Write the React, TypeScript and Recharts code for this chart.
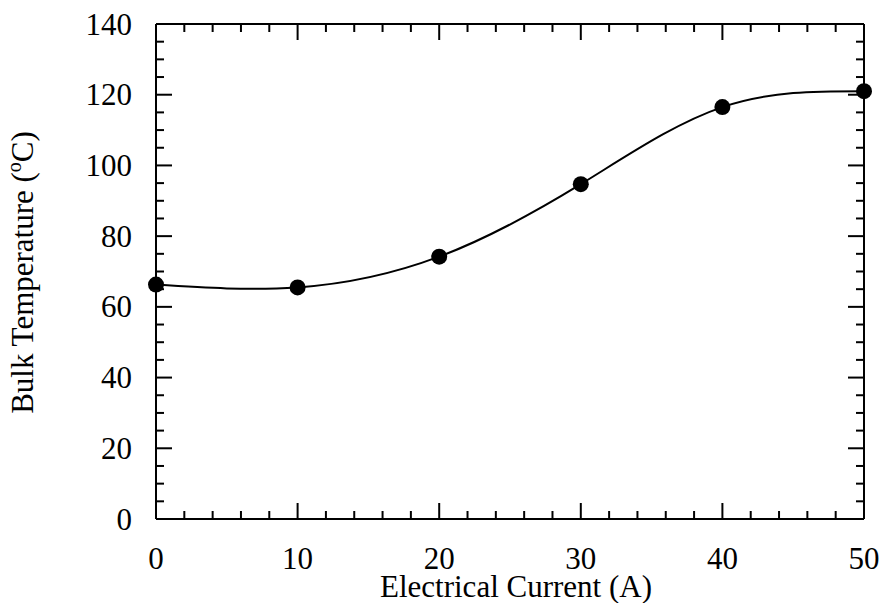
import React from 'react';
import { ComposedChart, Line, XAxis, YAxis } from 'recharts';

const currents = [0, 10, 20, 30, 40, 50];
const temperatures = [66.3, 65.5, 74.2, 94.7, 116.5, 121];
const xTicks = [0, 2, 4, 6, 8, 10, 12, 14, 16, 18, 20, 22, 24, 26, 28, 30, 32, 34, 36, 38, 40, 42, 44, 46, 48, 50];
const yTicks = [0, 5, 10, 15, 20, 25, 30, 35, 40, 45, 50, 55, 60, 65, 70, 75, 80, 85, 90, 95, 100, 105, 110, 115, 120, 125, 130, 135, 140];
const xTitle = 'Electrical Current (A)';
const yTitleMain = 'Bulk Temperature (';
const yTitleSup = 'o';
const yTitleEnd = 'C)';

const data = currents.map((c, i) => ({ x: c, y: temperatures[i] }));

const FONT = '"Liberation Serif", "Times New Roman", serif';
const FS = 31;
const MAJ = 16;
const MIN = 8;

const BottomTick = (props: any) => {
  const { x, y, payload } = props;
  const v = payload.value;
  const major = v % 10 === 0;
  return (
    <g>
      <line x1={x} x2={x} y1={y} y2={y - (major ? MAJ : MIN)} stroke="#000" strokeWidth={2} />
      {major && (
        <text x={x} y={y + 50} textAnchor="middle" fontFamily={FONT} fontSize={FS} fill="#000">
          {v}
        </text>
      )}
    </g>
  );
};

const TopTick = (props: any) => {
  const { x, y, payload } = props;
  const v = payload.value;
  const major = v % 10 === 0;
  return <line x1={x} x2={x} y1={y} y2={y + (major ? MAJ : MIN)} stroke="#000" strokeWidth={2} />;
};

const LeftTick = (props: any) => {
  const { x, y, payload } = props;
  const v = payload.value;
  const major = v % 20 === 0;
  return (
    <g>
      <line x1={x} x2={x + (major ? MAJ : MIN)} y1={y} y2={y} stroke="#000" strokeWidth={2} />
      {major && (
        <text x={x - 24} y={y} textAnchor="end" dominantBaseline="central" fontFamily={FONT} fontSize={FS} fill="#000">
          {v}
        </text>
      )}
    </g>
  );
};

const RightTick = (props: any) => {
  const { x, y, payload } = props;
  const v = payload.value;
  const major = v % 20 === 0;
  return <line x1={x} x2={x - (major ? MAJ : MIN)} y1={y} y2={y} stroke="#000" strokeWidth={2} />;
};

const XTitle = (props: any) => {
  const vb = props.viewBox;
  return (
    <text x={vb.x + vb.width / 2 + 6} y={vb.y + 78} textAnchor="middle" fontFamily={FONT} fontSize={FS} fill="#000">
      {xTitle}
    </text>
  );
};

const YTitle = (props: any) => {
  const vb = props.viewBox;
  const cx = 33;
  const cy = vb.y + vb.height / 2 + 1;
  return (
    <text x={cx} y={cy} transform={`rotate(-90, ${cx}, ${cy})`} textAnchor="middle" fontFamily={FONT} fontSize={FS} fill="#000">
      <tspan>{yTitleMain}</tspan>
      <tspan dy={-12} fontSize={20}>{yTitleSup}</tspan>
      <tspan dy={12}>{yTitleEnd}</tspan>
    </text>
  );
};

export default function App() {
  return (
    <div style={{ position: 'absolute', left: 0, top: 0, background: '#fff' }}>
      <ComposedChart width={880} height={603} data={data} margin={{ top: 0, right: 0, bottom: 0, left: 0 }}>
        <XAxis
          xAxisId="b"
          dataKey="x"
          type="number"
          domain={[0, 50]}
          ticks={xTicks}
          interval={0}
          height={84}
          tickLine={false}
          tickSize={0}
          tickMargin={0}
          tick={<BottomTick />}
          axisLine={{ stroke: '#000', strokeWidth: 2 }}
          label={<XTitle />}
        />
        <XAxis
          xAxisId="t"
          orientation="top"
          dataKey="x"
          type="number"
          domain={[0, 50]}
          ticks={xTicks}
          interval={0}
          height={24}
          tickLine={false}
          tickSize={0}
          tickMargin={0}
          tick={<TopTick />}
          axisLine={{ stroke: '#000', strokeWidth: 2 }}
        />
        <YAxis
          yAxisId="l"
          type="number"
          domain={[0, 140]}
          ticks={yTicks}
          interval={0}
          width={156}
          tickLine={false}
          tickSize={0}
          tickMargin={0}
          tick={<LeftTick />}
          axisLine={{ stroke: '#000', strokeWidth: 2 }}
          label={<YTitle />}
        />
        <YAxis
          yAxisId="r"
          orientation="right"
          type="number"
          domain={[0, 140]}
          ticks={yTicks}
          interval={0}
          width={16}
          tickLine={false}
          tickSize={0}
          tickMargin={0}
          tick={<RightTick />}
          axisLine={{ stroke: '#000', strokeWidth: 2 }}
        />
        <Line
          xAxisId="b"
          yAxisId="l"
          dataKey="y"
          type="natural"
          stroke="#000"
          strokeWidth={2}
          dot={{ r: 8, fill: '#000', stroke: 'none' }}
          activeDot={false}
          isAnimationActive={false}
        />
        <Line
          xAxisId="t"
          yAxisId="r"
          dataKey="y"
          type="natural"
          stroke="none"
          dot={false}
          activeDot={false}
          isAnimationActive={false}
        />
      </ComposedChart>
    </div>
  );
}
